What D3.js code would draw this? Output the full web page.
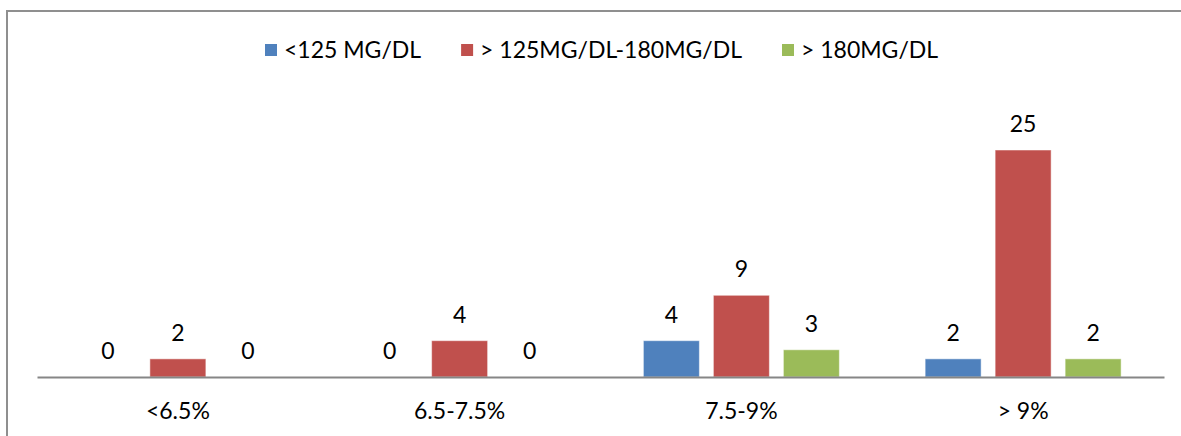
<!DOCTYPE html>
<html>
<head>
<meta charset="utf-8">
<script src="https://cdn.jsdelivr.net/npm/d3@7"></script>
<style>
  body { margin: 0; background: #fff; overflow: hidden; }
  svg { display: block; }
  text { font-family: Lato, "Liberation Sans", sans-serif; fill: #000; }
</style>
</head>
<body>
<script>
// HbA1c groups vs glucose bands
var categories = ["<6.5%", "6.5-7.5%", "7.5-9%", "> 9%"];
var seriesNames = ["<125 MG/DL", "> 125MG/DL-180MG/DL", "> 180MG/DL"];
var low = [0, 0, 4, 2];
var mid = [2, 4, 9, 25];
var high = [0, 0, 3, 2];
var colors = ["#4F81BD", "#C0504D", "#9BBB59"];

var width = 1181, height = 436;
var series = [low, mid, high];

var svg = d3.select("body").append("svg")
  .attr("width", width)
  .attr("height", height);

// frame: only the top and left edges are inside the picture
svg.append("path")
  .attr("d", "M7," + height + "V11H" + width)
  .attr("fill", "none")
  .attr("stroke", "#8f8f8f")
  .attr("stroke-width", 2);

var x0 = d3.scaleBand()
  .domain(categories)
  .range([37, 1164])
  .paddingInner(0.2547)
  .paddingOuter(0.12735);

var x1 = d3.scaleBand()
  .domain(d3.range(seriesNames.length))
  .range([0, x0.bandwidth()])
  .paddingInner(0.2)
  .paddingOuter(0.1);

var y = d3.scaleLinear()
  .domain([0, 30])
  .range([377, 104.6]);

var rows = [];
categories.forEach(function (c, i) {
  series.forEach(function (s, j) {
    rows.push({ cat: c, k: j, v: s[i] });
  });
});

svg.selectAll("rect.bar")
  .data(rows)
  .enter()
  .append("rect")
  .attr("class", "bar")
  .attr("x", function (d) { return x0(d.cat) + x1(d.k); })
  .attr("y", function (d) { return y(d.v); })
  .attr("width", x1.bandwidth())
  .attr("height", function (d) { return y(0) - y(d.v); })
  .attr("fill", function (d) { return colors[d.k]; })
  .attr("stroke", function (d) { return d.v > 0 ? "rgba(255,255,255,0.5)" : "none"; })
  .attr("stroke-width", 1);

svg.selectAll("text.val")
  .data(rows)
  .enter()
  .append("text")
  .attr("class", "val")
  .attr("x", function (d) { return x0(d.cat) + x1(d.k) + x1.bandwidth() / 2; })
  .attr("y", function (d) { return y(d.v) - 18; })
  .attr("text-anchor", "middle")
  .style("font-size", "23px")
  .text(function (d) { return d.v; });

var xAxis = svg.append("g")
  .attr("transform", "translate(0,377)")
  .call(d3.axisBottom(x0).tickSize(0).tickSizeOuter(0).tickPadding(0));
xAxis.select(".domain")
  .attr("stroke", "#868686")
  .attr("stroke-width", 2);
xAxis.selectAll(".tick text")
  .attr("dy", 0)
  .attr("y", 42)
  .style("font-size", "23px")
  .style("font-family", "Lato, 'Liberation Sans', sans-serif")
  .attr("fill", "#000");

// legend
var legend = svg.append("g").attr("transform", "translate(265,50)");
var lx = 0;
seriesNames.forEach(function (name, i) {
  var g = legend.append("g").attr("transform", "translate(" + lx + ",0)");
  g.append("rect")
    .attr("x", 0).attr("y", -6)
    .attr("width", 12).attr("height", 12)
    .attr("fill", colors[i]);
  var t = g.append("text")
    .attr("x", 19).attr("y", 8)
    .style("font-size", "23px")
    .text(name);
  lx += 19 + t.node().getComputedTextLength() + 40;
});
</script>
</body>
</html>
